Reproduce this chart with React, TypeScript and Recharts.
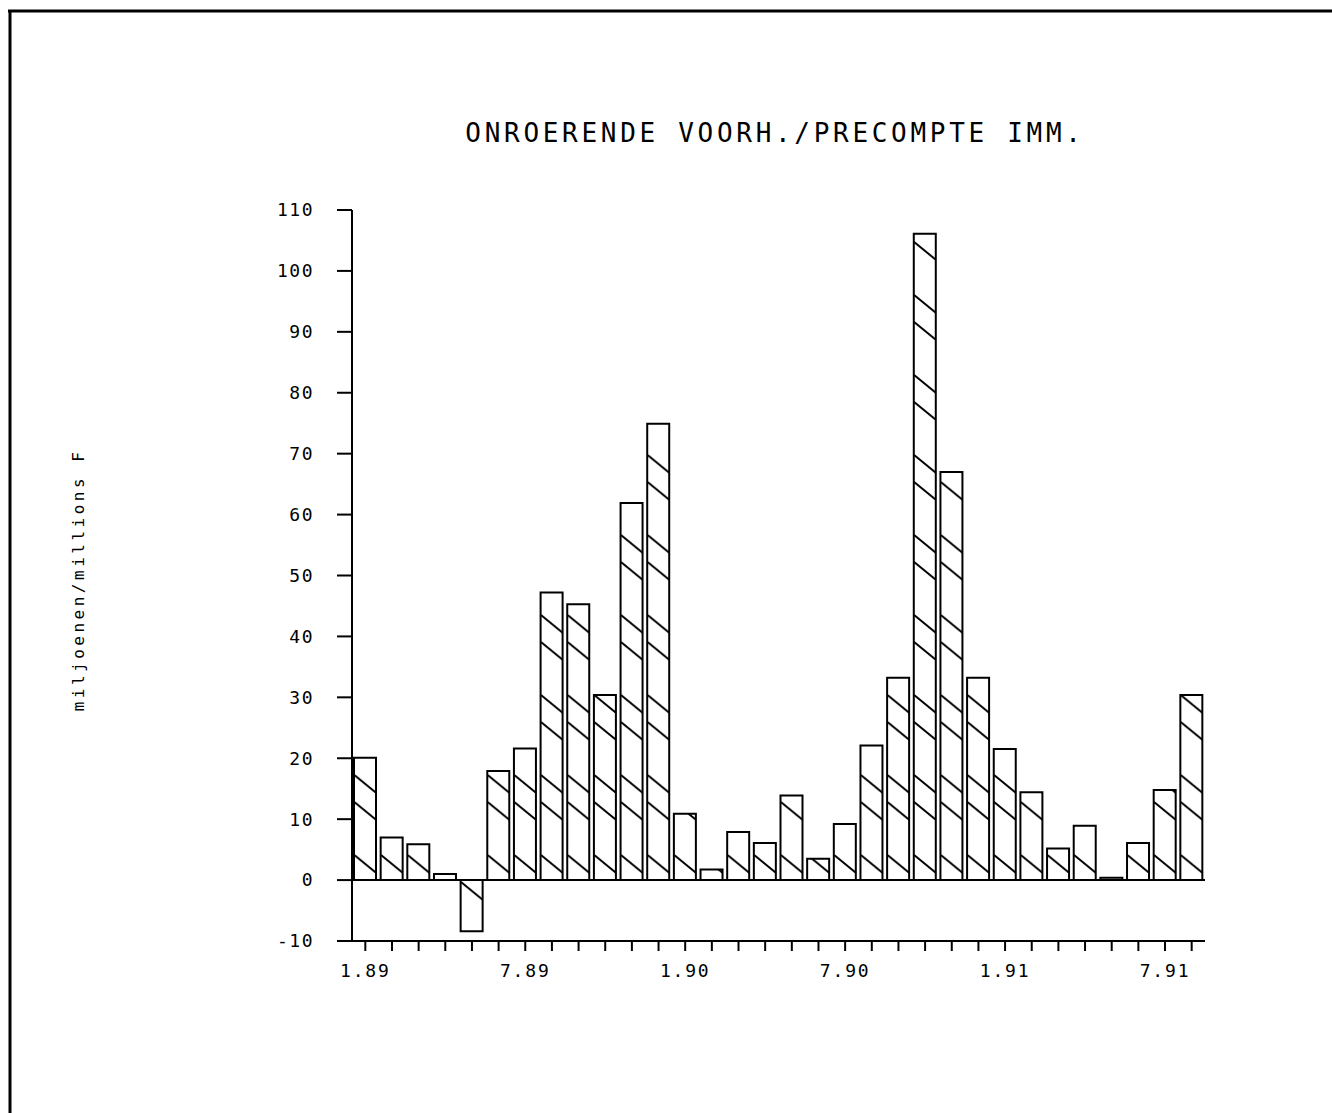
import React from "react";
import {
  BarChart,
  Bar,
  XAxis,
  YAxis,
  ReferenceLine,
} from "recharts";

// months 1.89 .. 8.91
const months = [
  "1.89", "2.89", "3.89", "4.89", "5.89", "6.89", "7.89", "8.89", "9.89", "10.89", "11.89", "12.89",
  "1.90", "2.90", "3.90", "4.90", "5.90", "6.90", "7.90", "8.90", "9.90", "10.90", "11.90", "12.90",
  "1.91", "2.91", "3.91", "4.91", "5.91", "6.91", "7.91", "8.91",
];

const values = [
  20.1, 7.0, 5.9, 1.0, -8.4, 17.9, 21.6, 47.2, 45.3, 30.4, 61.9, 74.9,
  10.9, 1.75, 7.9, 6.1, 13.9, 3.5, 9.2, 22.1, 33.2, 106.1, 67.0, 33.2,
  21.5, 14.4, 5.2, 8.9, 0.4, 6.1, 14.8, 30.4,
];

const shownLabels = ["1.89", "7.89", "1.90", "7.90", "1.91", "7.91"];
const yTicks = [-10, 0, 10, 20, 30, 40, 50, 60, 70, 80, 90, 100, 110];

const title = "ONROERENDE VOORH./PRECOMPTE IMM.";
const yLabel = "miljoenen/millions F";

const data = months.map((m, i) => ({ month: m, value: values[i] }));

const W = 1332;
const H = 1113;
const plotLeft = 352;
const plotRight = 1205;
const plotTop = 210;
const plotBottom = 941;
const step = (plotRight - plotLeft) / months.length;
const barW = 22;

const mono = "'DejaVu Sans Mono', monospace";

export default function App() {
  return (
    <div style={{ position: "relative", width: W, height: H, background: "#fff" }}>
      <style>{"body{margin:0;background:#fff}"}</style>
      <BarChart
        width={W}
        height={H}
        data={data}
        margin={{ top: plotTop, left: plotLeft - 80, right: W - plotRight, bottom: H - plotBottom - 40 }}
        barSize={barW}
      >
        <defs>
          <pattern
            id="hatch"
            patternUnits="userSpaceOnUse"
            x={plotLeft + (step - barW) / 2}
            y={0}
            width={step}
            height={80}
          >
            <line x1={0} y1={2} x2={barW} y2={20} stroke="#000" strokeWidth={2} />
            <line x1={0} y1={55} x2={barW} y2={73} stroke="#000" strokeWidth={2} />
          </pattern>
        </defs>
        <XAxis
          dataKey="month"
          interval={0}
          height={40}
          axisLine={{ stroke: "#000", strokeWidth: 2 }}
          tickLine={{ stroke: "#000", strokeWidth: 2 }}
          tickSize={10}
          tickMargin={13}
          tickFormatter={(v: string) => (shownLabels.includes(v) ? v : "")}
          tick={{ fontSize: 18, fill: "#000", fontFamily: mono, letterSpacing: 1.8 }}
        />
        <XAxis
          xAxisId="top"
          dataKey="month"
          orientation="top"
          height={0}
          tick={false}
          tickLine={false}
          axisLine={{ stroke: "#000", strokeWidth: 2 }}
        />
        <YAxis
          width={80}
          domain={[-10, 110]}
          ticks={yTicks}
          interval={0}
          axisLine={{ stroke: "#000", strokeWidth: 2 }}
          tickLine={{ stroke: "#000", strokeWidth: 2 }}
          tickSize={15}
          tickMargin={23}
          tick={{ fontSize: 18, fill: "#000", fontFamily: mono, letterSpacing: 1.5 }}
        />
        <YAxis
          yAxisId="right"
          orientation="right"
          width={0}
          domain={[-10, 110]}
          tick={false}
          tickLine={false}
          axisLine={{ stroke: "#000", strokeWidth: 2 }}
        />
        <ReferenceLine y={0} stroke="#000" strokeWidth={2} />
        <Bar
          dataKey="value"
          fill="url(#hatch)"
          stroke="#000"
          strokeWidth={2}
          isAnimationActive={false}
        />
      </BarChart>
      <svg
        width={W}
        height={H}
        style={{ position: "absolute", left: 0, top: 0, pointerEvents: "none" }}
      >
        <line x1={8} y1={11} x2={W} y2={11} stroke="#000" strokeWidth={3} />
        <line x1={10} y1={10} x2={10} y2={H} stroke="#000" strokeWidth={3} />
        <text
          x={775}
          y={142}
          textAnchor="middle"
          fontFamily={mono}
          fontSize={26}
          letterSpacing={3.7}
          fill="#000"
        >
          {title}
        </text>
        <text
          x={0}
          y={0}
          transform="translate(84 580) rotate(-90)"
          textAnchor="middle"
          fontFamily={mono}
          fontSize={16}
          letterSpacing={3.5}
          fill="#000"
        >
          {yLabel}
        </text>
      </svg>
    </div>
  );
}
